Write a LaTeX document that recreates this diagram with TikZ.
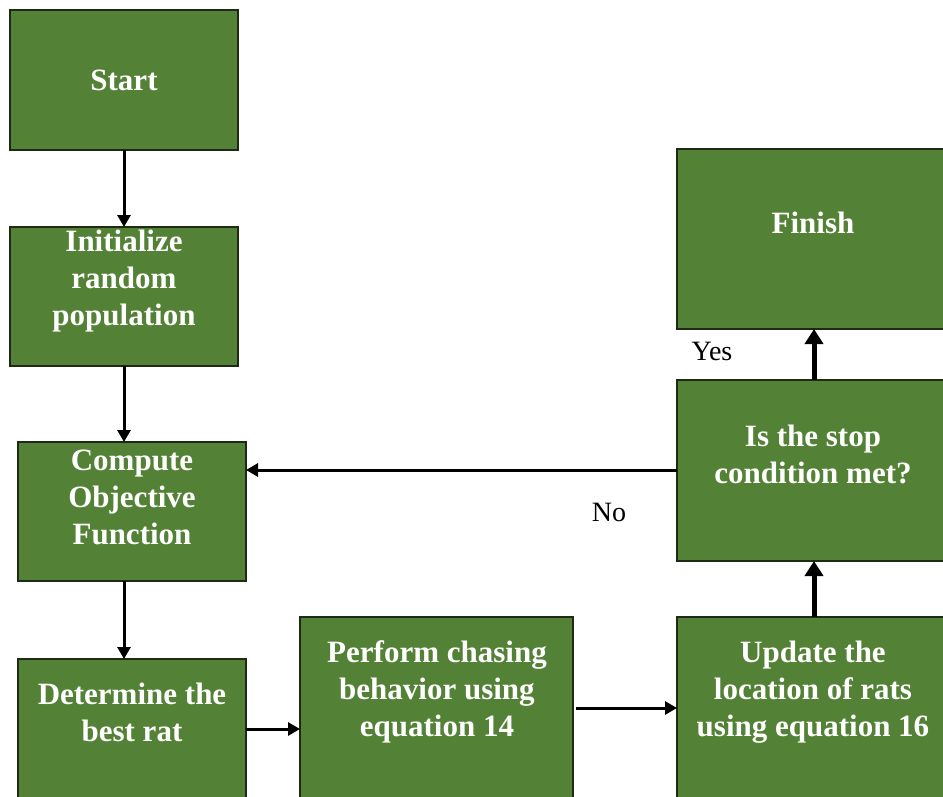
\documentclass[tikz,border=0pt]{standalone}
\usepackage{fontspec}
\setmainfont{Liberation Serif}
\usetikzlibrary{arrows.meta}
\definecolor{boxgreen}{HTML}{538135}
\definecolor{boxedge}{HTML}{1F2A14}
\tikzset{
  box/.style={draw=boxedge, line width=1.3pt, fill=boxgreen, anchor=north west,
    inner sep=0pt, outer sep=0pt},
  boxtext/.style={text=white, font=\fontsize{31}{37}\selectfont\bfseries,
    align=center, inner sep=0pt},
  flow/.style={draw=black, line width=3pt, -{Triangle[length=12pt,width=13pt]}},
  flowthick/.style={draw=black, line width=5pt, -{Triangle[length=15pt,width=18pt]}},
  answer/.style={font=\fontsize{28}{32}\selectfont, inner sep=0pt}
}
\begin{document}
\begin{tikzpicture}[x=1pt,y=-1pt]
\useasboundingbox (0,0) rectangle (943,797);

% process boxes (left column, bottom row, right column)
\node[box, minimum width=228pt, minimum height=140pt] (start) at (10,10) {};
\node[box, minimum width=228pt, minimum height=139pt] (init) at (10,227) {};
\node[box, minimum width=228pt, minimum height=139pt] (comp) at (18,442) {};
\node[box, minimum width=228pt, minimum height=150pt] (det) at (18,659) {};
\node[box, minimum width=273pt, minimum height=190pt] (perf) at (300,617) {};
\node[box, minimum width=275pt, minimum height=190pt] (upd) at (677,617) {};
\node[box, minimum width=275pt, minimum height=181pt] (stop) at (677,380) {};
\node[box, minimum width=275pt, minimum height=180pt] (fin) at (677,149) {};

% box captions
\node[boxtext] (startt) at (124,80) {Start};
\node[boxtext] (initt) at (124,281) {Initialize\\random\\population};
\node[boxtext] (compt) at (132,497) {Compute\\Objective\\Function};
\node[boxtext] (dett) at (132,712) {Determine the\\best rat};
\node[boxtext] (perft) at (437,692) {Perform chasing\\behavior using\\equation 14};
\node[boxtext] (updt) at (813,692) {Update the\\location of rats\\using equation 16};
\node[boxtext] (stopt) at (813,454) {Is the stop\\condition met?};
\node[boxtext] (fint) at (813,223) {Finish};

% decision labels
\node[answer] (yes) at (712,351) {Yes};
\node[answer] (no) at (609,512) {No};

% connectors
\coordinate (col) at (124,0);
\draw[flow] (start.south) -- (init.north);
\draw[flow] (init.south) -- (init.south |- comp.north);
\draw[flow] (col |- comp.south) -- (col |- det.north);
\coordinate (row1) at (0,729);
\draw[flow] (row1 -| det.east) -- (row1 -| perf.west);
\coordinate (row2) at (0,708);
\draw[flow] ([xshift=3pt]row2 -| perf.east) -- (row2 -| upd.west);
\coordinate (col2) at (814,0);
\draw[flowthick] (col2 |- upd.north) -- (col2 |- stop.south);
\draw[flowthick] (col2 |- stop.north) -- (col2 |- fin.south);
\coordinate (row3) at (0,470);
\draw[flow] (row3 -| stop.west) -- (row3 -| comp.east);
\end{tikzpicture}
\end{document}
